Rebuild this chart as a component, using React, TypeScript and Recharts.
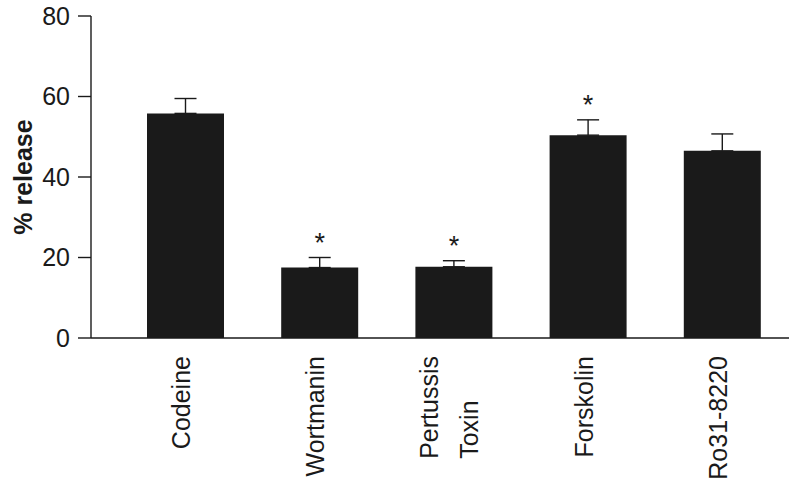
import { BarChart, Bar, XAxis, YAxis, ErrorBar, Label } from 'recharts'

const categories = ['Codeine', 'Wortmanin', 'Pertussis\nToxin', 'Forskolin', 'Ro31-8220']
const release = [55.8, 17.5, 17.7, 50.4, 46.5]
const sem = [3.7, 2.5, 1.5, 3.8, 4.2]
const significant = [false, true, true, true, false]
const yTicks = [0, 20, 40, 60, 80]

const FONT = '"Liberation Sans", Arial, Helvetica, sans-serif'
const INK = '#1a1a1a'

const data = categories.map((name, i) => ({
  name,
  release: release[i],
  err: [0, sem[i]],
}))

let ctx: CanvasRenderingContext2D | null = null
function textWidth(s: string, size: number) {
  if (!ctx) ctx = document.createElement('canvas').getContext('2d')
  if (!ctx) return s.length * size * 0.55
  ctx.font = `${size}px ${FONT}`
  return ctx.measureText(s).width
}

function CategoryTick(props: any) {
  const { x, y, payload } = props
  const lines = String(payload.value).split('\n')
  const size = 25
  const bx = x + 5
  if (lines.length === 1) {
    return (
      <text
        x={bx}
        y={y}
        transform={`rotate(-90 ${bx} ${y})`}
        textAnchor="end"
        fontSize={size}
        fontFamily={FONT}
        fill={INK}
      >
        {lines[0]}
      </text>
    )
  }
  // multi-line labels: lines share a common start, longest one reaches the top
  const longest = Math.max(...lines.map((l) => textWidth(l, size)))
  const startY = y + longest
  const gap = 40
  return (
    <g>
      {lines.map((l, i) => {
        const lx = bx + (i - (lines.length - 1) / 2) * gap
        return (
          <text
            key={i}
            x={lx}
            y={startY}
            transform={`rotate(-90 ${lx} ${startY})`}
            textAnchor="start"
            fontSize={size}
            fontFamily={FONT}
            fill={INK}
          >
            {l}
          </text>
        )
      })}
    </g>
  )
}

function Star(props: any) {
  const { x, y, width, height, value, index } = props
  if (!significant[index] || !value) return <g />
  const pxPerUnit = height / value
  const top = y - sem[index] * pxPerUnit
  return (
    <text x={x + width / 2} y={top - 6} textAnchor="middle" fontSize={27} fontFamily={FONT} fill={INK}>
      *
    </text>
  )
}

function AxisTitle(props: any) {
  const vb = props.viewBox || { x: 0, y: 16, width: 91, height: 322 }
  const cx = vb.x + 32
  const cy = vb.y + vb.height / 2
  return (
    <text
      x={cx}
      y={cy}
      transform={`rotate(-90 ${cx} ${cy})`}
      textAnchor="middle"
      fontSize={25}
      fontWeight="bold"
      fontFamily={FONT}
      fill={INK}
    >
      % release
    </text>
  )
}

export default function App() {
  return (
    <div style={{ width: 800, height: 489, background: '#fff' }}>
      <style>{'body{margin:0}'}</style>
      <BarChart width={800} height={489} data={data} margin={{ top: 16, right: 11, left: 0, bottom: 0 }}>
        <XAxis
          dataKey="name"
          interval={0}
          height={151}
          padding={{ left: 27, right: 0 }}
          tickLine={false}
          tickSize={0}
          tickMargin={18}
          axisLine={{ stroke: INK, strokeWidth: 1.4 }}
          tick={<CategoryTick />}
        />
        <YAxis
          width={91}
          domain={[0, 80]}
          ticks={yTicks}
          tickSize={13}
          tickMargin={8}
          axisLine={{ stroke: INK, strokeWidth: 1.4 }}
          tickLine={{ stroke: INK, strokeWidth: 1.4 }}
          tick={{ fill: INK, fontSize: 25, fontFamily: FONT }}
        >
          <Label content={<AxisTitle />} />
        </YAxis>
        <Bar dataKey="release" fill={INK} barSize={77} isAnimationActive={false} label={<Star />}>
          <ErrorBar dataKey="err" width={11} stroke={INK} strokeWidth={1.4} direction="y" />
        </Bar>
      </BarChart>
    </div>
  )
}
